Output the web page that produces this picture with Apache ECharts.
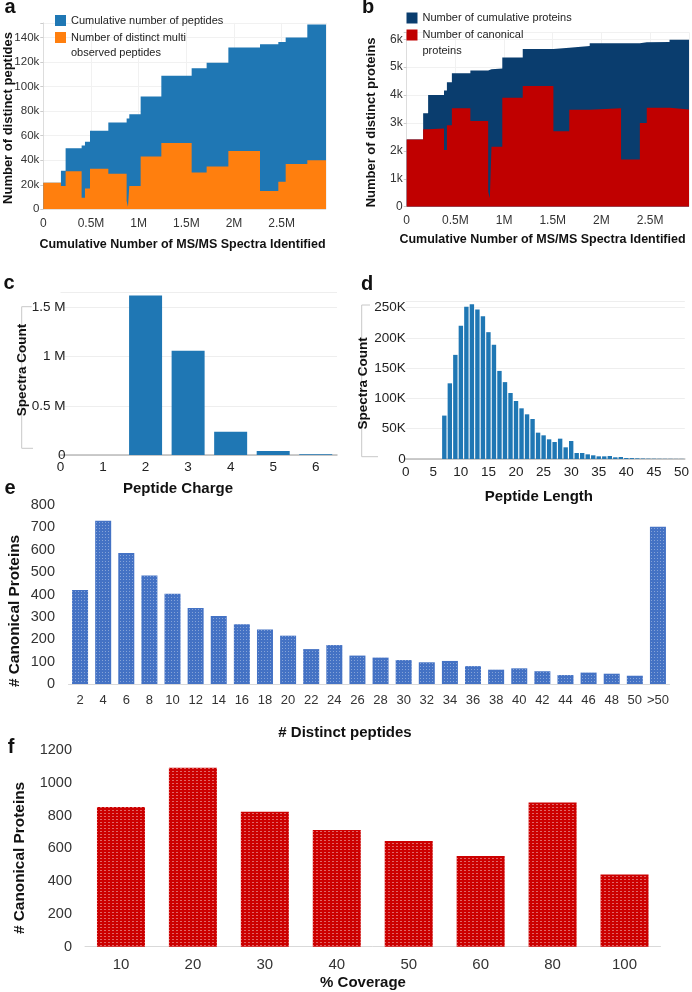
<!DOCTYPE html>
<html><head><meta charset="utf-8">
<script src="https://cdn.jsdelivr.net/npm/echarts@6/dist/echarts.min.js"></script>
<style>html,body{margin:0;padding:0;background:#fff}#c{width:692px;height:992px}</style>
</head><body><div id="c"></div>
<script>
// ---------- Panel a (x in millions of spectra, y in thousands) ----------
const aStepStartM = [0, 0.185, 0.234, 0.402, 0.437, 0.490, 0.682, 0.874, 0.888, 0.902, 1.021, 1.238, 1.556, 1.713, 1.941, 2.273, 2.465, 2.542, 2.769];
const aStepEndM = 2.965;
const aCumulativePeptidesK = [21.7, 31.5, 49.7, 52, 55, 64, 70.7, 74, 74, 77.5, 92, 109, 115, 119.6, 132, 134.5, 136.5, 140, 150.6];
const aMultiObservedK = [21.7, 19, 31, 9.5, 17, 33, 29, 6.8, 2, 19, 43, 54, 30, 35, 47.6, 15, 22.5, 37, 40];
// ---------- Panel b ----------
const bStepStartM = [0, 0.169, 0.220, 0.383, 0.413, 0.464, 0.654, 0.837, 0.854, 0.871, 0.982, 1.192, 1.507, 1.670, 1.880, 2.202, 2.395, 2.466, 2.700];
const bStepEndM = 2.9;
const bCumulativeProteinsK = [2.41, 3.35, 4.0, 4.16, 4.46, 4.78, 4.88, 4.92, 4.93, 4.95, 5.35, 5.65, 5.7, 5.76, 5.86, 5.86, 5.89, 5.9, 5.98];
const bCanonicalProteinsK = [2.41, 2.78, 2.8, 2.03, 2.92, 3.53, 3.07, 0.54, 0.3, 2.15, 3.9, 4.33, 2.7, 3.47, 3.53, 1.69, 3.0, 3.55, 3.48];
// ---------- Panel c ----------
const cCharges = [0, 1, 2, 3, 4, 5, 6];
const cSpectraM = [0, 0, 1.62, 1.06, 0.237, 0.04, 0.008];
// ---------- Panel d ----------
const dLengths = [7,8,9,10,11,12,13,14,15,16,17,18,19,20,21,22,23,24,25,26,27,28,29,30,31,32,33,34,35,36,37,38,39,40,41,42,43,44,45,46,47,48,49,50];
const dSpectraK = [71.7,125,172,220,251.6,255.5,247,236,209.5,188.7,145.5,127,109,95.8,83.7,73.8,66.1,43.5,39.1,32.5,28.1,33.6,19.3,29.7,9.9,9.9,7.7,6.1,4.4,4.4,5.0,2.8,3.3,1.7,1.5,1.1,0.8,0.6,0.5,0.4,0.3,0.3,0.2,0.2];
// ---------- Panel e ----------
const eDistinctPeptides = ['2','4','6','8','10','12','14','16','18','20','22','24','26','28','30','32','34','36','38','40','42','44','46','48','50','>50'];
const eCanonicalProteins = [420,730,585,485,403,340,304,267,244,216,156,174,127,118,107,97,103,80,64,70,57,40,51,46,37,703];
// ---------- Panel f ----------
const fCoverage = ['10','20','30','40','50','60','80','100'];
const fCanonicalProteins = [852,1092,823,712,645,553,880,441];

const FONT = 'Liberation Sans';
function steps(starts, end, vals) {
  const d = vals.map((v, i) => [starts[i], v]);
  d.push([end, vals[vals.length - 1]]);
  return d;
}
function onGrid(v, step) { return Math.abs(v / step - Math.round(v / step)) < 1e-6; }
const fmtM = v => !onGrid(v, 0.5) ? '' : (v === 0 ? '0' : (+v.toFixed(2)) + 'M');
const light = { lineStyle: { color: '#f1f1f1' } };

function txt(text, x, y, size, bold, rot) {
  return { type: 'text', x: x, y: y, rotation: rot || 0, z: 100,
    style: { text: text, font: (bold ? 'bold ' : '') + size + 'px "' + FONT + '"', fill: '#111',
      align: 'center', verticalAlign: 'middle', textAlign: 'center', textVerticalAlign: 'middle' } };
}
function leftTxt(text, x, y, size) {
  return { type: 'text', x: x, y: y, z: 100,
    style: { text: text, font: size + 'px "' + FONT + '"', fill: '#222',
      align: 'left', verticalAlign: 'middle', textAlign: 'left', textVerticalAlign: 'middle' } };
}
const R = Math.PI / 2;

const aNames = ['Cumulative number of peptides', 'Number of distinct multi observed peptides'];
const bNames = ['Number of cumulative proteins', 'Number of canonical proteins'];

const option = {
  animation: false,
  textStyle: { fontFamily: FONT },
  grid: [
    { left: 43.3, top: 22.9, width: 282.7, height: 186.4 },
    { left: 406.7, top: 32.3, width: 285.3, height: 174.4 },
    { left: 60.5, top: 292.6, width: 276.5, height: 162.4 },
    { left: 405.7, top: 301.6, width: 281, height: 157.4 },
    { left: 68.5, top: 505, width: 601, height: 179 },
    { left: 85, top: 750, width: 575.5, height: 196.7 }
  ],
  xAxis: [
    { gridIndex: 0, type: 'value', min: 0, max: aStepEndM, interval: 0.5, axisLine: { show: false }, axisTick: { show: false },
      splitLine: light, axisLabel: { formatter: fmtM, fontSize: 12, color: '#333', margin: 8 } },
    { gridIndex: 1, type: 'value', min: 0, max: bStepEndM, interval: 0.5, axisLine: { show: false }, axisTick: { show: false },
      splitLine: light, axisLabel: { formatter: fmtM, fontSize: 12, color: '#333', margin: 8 } },
    { gridIndex: 2, type: 'value', min: 0, max: 6.5, interval: 1, axisLine: { lineStyle: { color: '#bbb', width: 1.5 } }, axisTick: { show: false },
      splitLine: { show: false }, axisLabel: { formatter: v => onGrid(v, 1) ? String(v) : '', fontSize: 13.5, color: '#222', margin: 5 } },
    { gridIndex: 3, type: 'value', min: 0, max: 50.6, interval: 5, axisLine: { lineStyle: { color: '#bbb', width: 1.5 } }, axisTick: { show: false },
      splitLine: { show: false }, axisLabel: { formatter: v => onGrid(v, 5) ? String(v) : '', fontSize: 13.5, color: '#222', margin: 6 } },
    { gridIndex: 4, type: 'category', data: eDistinctPeptides, axisLine: { lineStyle: { color: '#d9d9d9' } }, axisTick: { show: false },
      axisLabel: { interval: 0, fontSize: 13, color: '#333', margin: 10 } },
    { gridIndex: 5, type: 'category', data: fCoverage, axisLine: { lineStyle: { color: '#d9d9d9' } }, axisTick: { show: false },
      axisLabel: { interval: 0, fontSize: 15, color: '#333', margin: 11 } }
  ],
  yAxis: [
    { gridIndex: 0, type: 'value', min: 0, max: 152, interval: 20, axisLine: { show: true, lineStyle: { color: '#ddd' } },
      axisTick: { show: true, length: 3, lineStyle: { color: '#ccc' } }, splitLine: light,
      axisLabel: { formatter: v => !onGrid(v, 20) ? '' : (v === 0 ? '0' : v + 'k'), fontSize: 11.5, color: '#333', margin: 4 } },
    { gridIndex: 1, type: 'value', min: 0, max: 6.25, interval: 1, axisLine: { show: true, lineStyle: { color: '#ddd' } },
      axisTick: { show: true, length: 3, lineStyle: { color: '#ccc' } }, splitLine: light,
      axisLabel: { formatter: v => !onGrid(v, 1) ? '' : (v === 0 ? '0' : v + 'k'), fontSize: 12, color: '#333', margin: 4 } },
    { gridIndex: 2, type: 'value', min: 0, max: 1.65, interval: 0.5, offset: -7, axisLine: { show: false }, axisTick: { show: false },
      splitLine: { lineStyle: { color: '#eee' } },
      axisLabel: { formatter: v => !onGrid(v, 0.5) ? '' : (v === 0 ? '0' : (+v.toFixed(2)) + ' M'), fontSize: 13.5, color: '#222', margin: 2 } },
    { gridIndex: 3, type: 'value', min: 0, max: 260, interval: 50, offset: -2, axisLine: { show: false }, axisTick: { show: false },
      splitLine: { lineStyle: { color: '#eee' } },
      axisLabel: { formatter: v => !onGrid(v, 50) ? '' : (v === 0 ? '0' : v + 'K'), fontSize: 13.5, color: '#222', margin: 2 } },
    { gridIndex: 4, type: 'value', min: 0, max: 800, interval: 100, axisLine: { show: false }, axisTick: { show: false },
      splitLine: { show: false }, axisLabel: { formatter: v => String(v), fontSize: 14.5, color: '#333', margin: 13.5 } },
    { gridIndex: 5, type: 'value', min: 0, max: 1200, interval: 200, axisLine: { show: false }, axisTick: { show: false },
      splitLine: { show: false }, axisLabel: { formatter: v => String(v), fontSize: 14.5, color: '#333', margin: 13 } }
  ],
  legend: [
    { left: 55, top: 15, padding: 0, orient: 'vertical', icon: 'rect', itemWidth: 11, itemHeight: 11, itemGap: 6,
      data: aNames, formatter: n => n === aNames[1] ? 'Number of distinct multi' : n,
      textStyle: { fontSize: 11, color: '#222' } },
    { left: 406.5, top: 12.5, padding: 0, orient: 'vertical', icon: 'rect', itemWidth: 11, itemHeight: 11, itemGap: 6,
      data: bNames, formatter: n => n === bNames[1] ? 'Number of canonical' : n,
      textStyle: { fontSize: 11, color: '#222' } }
  ],
  series: [
    { name: aNames[0], type: 'line', xAxisIndex: 0, yAxisIndex: 0, step: 'end', showSymbol: false, silent: true,
      data: steps(aStepStartM, aStepEndM, aCumulativePeptidesK), lineStyle: { width: 0 },
      itemStyle: { color: '#1f77b4' }, areaStyle: { color: '#1f77b4', opacity: 1 } },
    { name: aNames[1], type: 'line', xAxisIndex: 0, yAxisIndex: 0, step: 'end', showSymbol: false, silent: true,
      data: steps(aStepStartM, aStepEndM, aMultiObservedK), lineStyle: { width: 0 },
      itemStyle: { color: '#ff7f0e' }, areaStyle: { color: '#ff7f0e', opacity: 1 } },
    { name: bNames[0], type: 'line', xAxisIndex: 1, yAxisIndex: 1, step: 'end', showSymbol: false, silent: true,
      data: steps(bStepStartM, bStepEndM, bCumulativeProteinsK), lineStyle: { width: 0 },
      itemStyle: { color: '#0a3d6e' }, areaStyle: { color: '#0a3d6e', opacity: 1 } },
    { name: bNames[1], type: 'line', xAxisIndex: 1, yAxisIndex: 1, step: 'end', showSymbol: false, silent: true,
      data: steps(bStepStartM, bStepEndM, bCanonicalProteinsK), lineStyle: { width: 0 },
      itemStyle: { color: '#c00000' }, areaStyle: { color: '#c00000', opacity: 1 } },
    { name: 'Peptide Charge', type: 'bar', xAxisIndex: 2, yAxisIndex: 2, barWidth: 33,
      data: cCharges.map((c, i) => [c, cSpectraM[i]]), itemStyle: { color: '#1f77b4' } },
    { name: 'Peptide Length', type: 'bar', xAxisIndex: 3, yAxisIndex: 3, barWidth: 4.4,
      data: dLengths.map((l, i) => [l, dSpectraK[i]]), itemStyle: { color: '#1f77b4' } },
    { name: '# Distinct peptides', type: 'bar', xAxisIndex: 4, yAxisIndex: 4, barWidth: 16,
      data: eCanonicalProteins,
      itemStyle: { color: '#4472c4', decal: { symbol: 'rect', symbolSize: 1, color: 'rgba(255,255,255,0.35)', dashArrayX: [1, 2], dashArrayY: [1, 2] } } },
    { name: '% Coverage', type: 'bar', xAxisIndex: 5, yAxisIndex: 5, barWidth: 48,
      data: fCanonicalProteins,
      itemStyle: { color: '#cc0000', decal: { symbol: 'rect', symbolSize: 1, color: 'rgba(255,255,255,0.4)', dashArrayX: [2, 2], dashArrayY: [1, 2] } } }
  ],
  graphic: [
    { type: 'polyline', z: 1, shape: { points: [[31.7, 306.7], [21.7, 306.7], [21.7, 448.3], [33, 448.3]] }, style: { stroke: '#c8c8c8', fill: null, lineWidth: 1 } },
    { type: 'polyline', z: 1, shape: { points: [[370, 305], [361.7, 305], [361.7, 456.7], [378, 456.7]] }, style: { stroke: '#c8c8c8', fill: null, lineWidth: 1 } },
    leftTxt('observed peptides', 71, 53, 11),
    leftTxt('proteins', 422.5, 51, 11),
    txt('a', 10, 7, 20, true), txt('b', 368, 7, 20, true), txt('c', 9, 283, 20, true),
    txt('d', 367, 284, 20, true), txt('e', 10, 488, 20, true), txt('f', 11, 747, 20, true),
    txt('Number of distinct peptides', 8, 118, 13, true, R),
    txt('Cumulative Number of MS/MS Spectra Identified', 182.5, 245, 12.5, true),
    txt('Number of distinct proteins', 371.7, 122.5, 13, true, R),
    txt('Cumulative Number of MS/MS Spectra Identified', 542.5, 239.3, 12.5, true),
    txt('Spectra Count', 22.7, 370, 13.5, true, R),
    txt('Spectra Count', 363.3, 383.3, 13.5, true, R),
    txt('Peptide Charge', 178, 489, 15, true),
    txt('Peptide Length', 538.8, 496.7, 15, true),
    txt('# Canonical Proteins', 15, 611, 15.4, true, R),
    txt('# Distinct peptides', 345, 733, 15, true),
    txt('# Canonical Proteins', 20, 858, 15.4, true, R),
    txt('% Coverage', 363, 983, 15, true)
  ]
};
const chart = echarts.init(document.getElementById('c'), null, { renderer: 'canvas' });
chart.setOption(option);
</script>
</body></html>
